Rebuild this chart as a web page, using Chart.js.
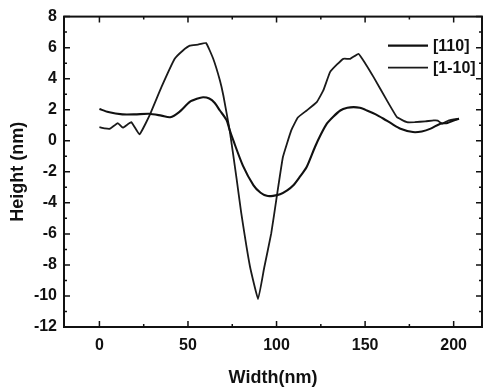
<!DOCTYPE html>
<html>
<head>
<meta charset="utf-8">
<script src="https://cdn.jsdelivr.net/npm/chart.js@4.4.1/dist/chart.umd.min.js"></script>
<style>
  html, body { margin: 0; padding: 0; background: #fff; }
  #wrap { width: 487px; height: 389px; }
</style>
</head>
<body>
<div id="wrap"><canvas id="profile"></canvas></div>
<script>
// line profiles across the island
var seriesNames = ['[110]', '[1-10]'];

var width110 = [0, 5, 13, 20, 28, 35, 40, 45, 51, 55, 58.5, 62, 65, 68, 71.7, 73.5, 75.5, 81, 87, 91, 94.5, 98, 102, 106, 109.5, 113, 117, 121.7, 125, 128.4, 132, 136, 140, 143.5, 147, 151, 156, 160.4, 165, 170, 177, 182, 187, 192.5, 196.5, 200, 203];
var height110 = [2.05, 1.85, 1.7, 1.7, 1.74, 1.62, 1.52, 1.85, 2.5, 2.7, 2.8, 2.72, 2.45, 1.95, 1.35, 0.7, 0.05, -1.6, -2.87, -3.35, -3.55, -3.55, -3.45, -3.2, -2.87, -2.35, -1.69, -0.4, 0.4, 1.1, 1.55, 1.95, 2.12, 2.17, 2.12, 1.95, 1.7, 1.42, 1.1, 0.78, 0.56, 0.6, 0.78, 1.1, 1.15, 1.3, 1.42];

var width1m10 = [0, 3, 6, 10.4, 13.2, 18, 22.6, 28.3, 35, 42.5, 47, 51, 55.7, 60.2, 64.2, 68, 70, 73.5, 77.4, 80, 85, 89.6, 93, 97, 100, 103.6, 108.3, 112, 117, 122.7, 126.4, 130.2, 134, 137.7, 141.6, 146.3, 150, 154.8, 162.3, 168, 173.6, 178, 184, 188.7, 191, 193.5, 197, 203];
var height1m10 = [0.88, 0.8, 0.78, 1.14, 0.84, 1.2, 0.41, 1.63, 3.45, 5.28, 5.8, 6.13, 6.2, 6.3, 5.3, 3.9, 2.9, 0.7, -2.4, -4.6, -8.1, -10.2, -8.2, -5.97, -3.7, -1.05, 0.67, 1.5, 1.95, 2.49, 3.24, 4.42, 4.9, 5.28, 5.28, 5.6, 5.0, 4.1, 2.6, 1.52, 1.2, 1.2, 1.25, 1.31, 1.3, 1.1, 1.3, 1.42];

var xTicks = [0, 50, 100, 150, 200];
var yTicks = [-12, -10, -8, -6, -4, -2, 0, 2, 4, 6, 8];

function toPoints(xs, ys) {
    return xs.map(function (x, i) { return { x: x, y: ys[i] }; });
}

var fontFamily = "'Liberation Sans', Arial, sans-serif";

// box round the plot with inward ticks on all four sides
var framePlugin = {
    id: 'frame',
    afterDraw: function (chart) {
        var ctx = chart.ctx;
        var a = chart.chartArea;
        var xs = chart.scales.x, ys = chart.scales.y;
        ctx.save();
        ctx.strokeStyle = '#111';
        ctx.lineWidth = 2;
        ctx.strokeRect(a.left, a.top, a.right - a.left, a.bottom - a.top);

        ctx.lineWidth = 1.5;
        ctx.beginPath();
        var i, p, v;
        for (i = 0; i < xTicks.length; i++) {
            p = xs.getPixelForValue(xTicks[i]);
            ctx.moveTo(p, a.bottom); ctx.lineTo(p, a.bottom - 6);
            ctx.moveTo(p, a.top); ctx.lineTo(p, a.top + 6);
            v = xTicks[i] + 25;
            if (v < xs.max) {
                p = xs.getPixelForValue(v);
                ctx.moveTo(p, a.bottom); ctx.lineTo(p, a.bottom - 3);
                ctx.moveTo(p, a.top); ctx.lineTo(p, a.top + 3);
            }
        }
        for (i = 0; i < yTicks.length; i++) {
            p = ys.getPixelForValue(yTicks[i]);
            ctx.moveTo(a.left, p); ctx.lineTo(a.left + 6, p);
            ctx.moveTo(a.right, p); ctx.lineTo(a.right - 6, p);
            v = yTicks[i] + 1;
            if (v < ys.max) {
                p = ys.getPixelForValue(v);
                ctx.moveTo(a.left, p); ctx.lineTo(a.left + 3, p);
                ctx.moveTo(a.right, p); ctx.lineTo(a.right - 3, p);
            }
        }
        ctx.stroke();
        ctx.restore();
    }
};

// legend sits inside the plot, top right
var insideLegend = {
    id: 'insideLegend',
    afterDraw: function (chart) {
        var ctx = chart.ctx;
        var a = chart.chartArea;
        ctx.save();
        ctx.font = 'bold 16px ' + fontFamily;
        ctx.textBaseline = 'middle';
        ctx.fillStyle = '#111';
        chart.data.datasets.forEach(function (ds, i) {
            var y = a.top + 29 + i * 22;
            ctx.strokeStyle = ds.borderColor;
            ctx.lineWidth = ds.borderWidth;
            ctx.beginPath();
            ctx.moveTo(a.right - 94, y);
            ctx.lineTo(a.right - 54, y);
            ctx.stroke();
            ctx.fillText(ds.label, a.right - 49, y + 1);
        });
        ctx.restore();
    }
};

var ctx = document.getElementById('profile').getContext('2d');
var profileChart = new Chart(ctx, {
    type: 'line',
    data: {
        datasets: [
            {
                label: seriesNames[0],
                data: toPoints(width110, height110),
                borderColor: '#111',
                borderWidth: 2.1,
                pointRadius: 0,
                tension: 0.25,
                fill: false
            },
            {
                label: seriesNames[1],
                data: toPoints(width1m10, height1m10),
                borderColor: '#1a1a1a',
                borderWidth: 1.8,
                pointRadius: 0,
                tension: 0.1,
                fill: false
            }
        ]
    },
    options: {
        responsive: true,
        maintainAspectRatio: false,
        animation: false,
        layout: { padding: { top: 16, right: 5, left: 0, bottom: 0 } },
        plugins: {
            legend: { display: false },
            tooltip: { enabled: false }
        },
        scales: {
            x: {
                type: 'linear',
                min: -20,
                max: 216,
                afterFit: function (scale) { scale.height = 62; },
                afterBuildTicks: function (scale) {
                    scale.ticks = xTicks.map(function (v) { return { value: v }; });
                },
                grid: { display: false, drawTicks: false },
                border: { display: false },
                ticks: {
                    padding: 9,
                    color: '#111',
                    maxRotation: 0,
                    font: { family: fontFamily, size: 16, weight: 'bold' }
                },
                title: {
                    display: true,
                    text: 'Width(nm)',
                    color: '#111',
                    padding: { top: 0, bottom: 0 },
                    font: { family: fontFamily, size: 18, weight: 'bold' }
                }
            },
            y: {
                min: -12,
                max: 8,
                afterFit: function (scale) { scale.width = 64; },
                afterBuildTicks: function (scale) {
                    scale.ticks = yTicks.map(function (v) { return { value: v }; });
                },
                grid: { display: false, drawTicks: false },
                border: { display: false },
                ticks: {
                    padding: 7,
                    color: '#111',
                    font: { family: fontFamily, size: 16, weight: 'bold' }
                },
                title: {
                    display: true,
                    text: 'Height (nm)',
                    color: '#111',
                    padding: { top: 7, bottom: 0 },
                    font: { family: fontFamily, size: 18, weight: 'bold' }
                }
            }
        }
    },
    plugins: [framePlugin, insideLegend]
});
</script>
</body>
</html>
